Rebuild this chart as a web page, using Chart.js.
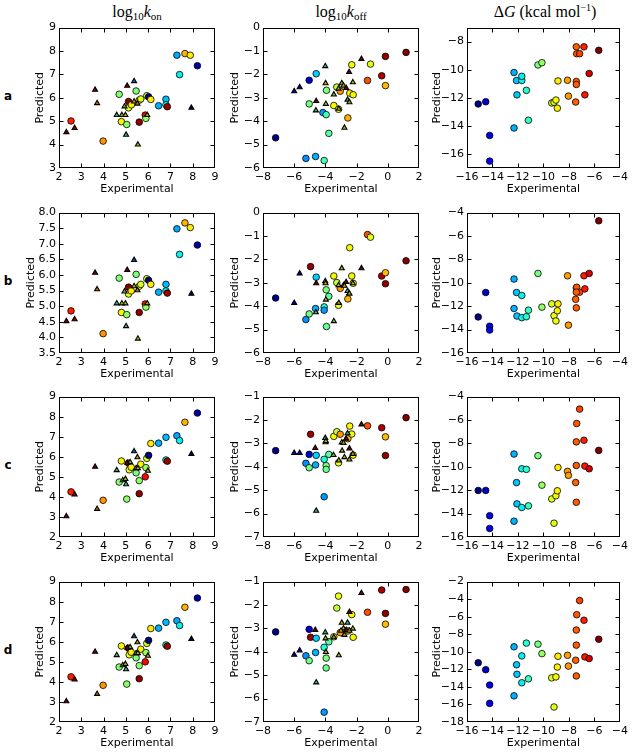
<!DOCTYPE html>
<html><head><meta charset="utf-8">
<script src="https://cdn.jsdelivr.net/npm/chart.js@4.4.1/dist/chart.umd.min.js"></script>
<style>
body{margin:0;background:#fff;}
#wrap{position:relative;width:635px;height:752px;overflow:hidden;background:#fff;}
canvas{position:absolute;}
.ttl{position:absolute;font-family:"Liberation Serif","DejaVu Serif",serif;font-size:16px;line-height:16px;transform:translateX(-50%);white-space:nowrap;color:#000;}
.ttl sub{font-size:11px;line-height:0;vertical-align:-3px;}
.ttl sup{font-size:10px;line-height:0;vertical-align:6px;}
.rl{position:absolute;font-family:"DejaVu Sans",sans-serif;font-weight:bold;font-size:12px;line-height:12px;transform:translate(-50%,-50%);}
</style></head>
<body><div id="wrap">
<div class="ttl" style="left:137px;top:4px">log<sub>10</sub><i>k</i><sub>on</sub></div>
<div class="ttl" style="left:341px;top:4px">log<sub>10</sub><i>k</i><sub>off</sub></div>
<div class="ttl" style="left:545px;top:4px">Δ<i>G</i> (kcal mol<sup>−1</sup>)</div>
<div class="rl" style="left:8px;top:96px">a</div>
<div class="rl" style="left:8px;top:281px">b</div>
<div class="rl" style="left:8px;top:465px">c</div>
<div class="rl" style="left:8px;top:650px">d</div>
</div>
<script>
// ---------- tick labels & ranges ----------
const konTicksX = [2,3,4,5,6,7,8,9];
const konTicksYA = [3,4,5,6,7,8,9];
const konTicksYB = [3.5,4.0,4.5,5.0,5.5,6.0,6.5,7.0,7.5,8.0];
const konTicksYCD = [2,3,4,5,6,7,8,9];
const koffTicksX = [-8,-6,-4,-2,0,2];
const koffTicksYAB = [-6,-5,-4,-3,-2,-1,0];
const koffTicksYCD = [-7,-6,-5,-4,-3,-2,-1];
const dgTicksX = [-16,-14,-12,-10,-8,-6,-4];
const dgTicksYA = [-16,-14,-12,-10,-8];
const dgTicksYBC = [-16,-14,-12,-10,-8,-6,-4];
const dgTicksYD = [-18,-16,-14,-12,-10,-8,-6,-4,-2];
const dgRangeYA = [-17,-7];

// colour variable range (experimental dG, kcal/mol)
const colourRange = [-15.12, -5.66];

// ---------- log10 kon : circles [exp, pred, dG] ----------
const konCirclesA = [[2.54,5.01,-6.8],[3.98,4.15,-8.0],[4.70,6.15,-10.3],[4.80,4.98,-9.0],[5.04,4.86,-10.2],[5.12,5.84,-5.7],[5.12,5.57,-9.2],[5.25,5.70,-8.9],[5.46,6.29,-10.4],[5.60,4.96,-5.8],[5.60,5.90,-9.0],[5.67,5.95,-9.3],[5.87,5.26,-6.6],[5.90,5.12,-10.1],[5.94,6.09,-9.4],[6.02,6.04,-15.1],[6.12,5.93,-8.9],[6.47,5.66,-12.3],[6.80,5.94,-12.2],[6.80,5.70,-11.6],[6.86,5.62,-5.9],[7.29,7.82,-12.4],[7.41,6.99,-11.7],[7.65,7.89,-8.3],[7.89,7.82,-8.9],[8.21,7.37,-14.8]];
const konCirclesB = [[2.54,4.85,-6.8],[3.98,4.12,-8.0],[4.70,5.90,-10.3],[4.80,4.80,-9.0],[5.04,4.73,-10.2],[5.12,5.61,-5.7],[5.12,5.39,-9.2],[5.24,5.49,-8.9],[5.46,6.02,-10.4],[5.60,4.80,-5.8],[5.60,5.64,-9.0],[5.67,5.70,-9.3],[5.87,5.07,-6.6],[5.90,4.97,-10.1],[5.94,5.88,-9.4],[6.02,5.83,-15.1],[6.12,5.70,-8.9],[6.47,5.45,-12.3],[6.80,5.70,-12.2],[6.80,5.49,-11.6],[6.86,5.42,-5.9],[7.29,7.48,-12.4],[7.41,6.66,-11.7],[7.65,7.67,-8.3],[7.89,7.52,-8.9],[8.21,6.96,-14.8]];
const konCirclesCD = [[2.54,4.25,-6.8],[3.98,3.83,-8.0],[4.70,4.74,-10.3],[4.80,5.79,-9.0],[5.04,3.89,-10.2],[5.12,5.68,-5.7],[5.15,5.35,-9.2],[5.24,5.48,-8.9],[5.46,5.20,-10.4],[5.60,4.81,-10.2],[5.60,4.16,-5.8],[5.67,5.63,-9.0],[5.87,5.00,-6.6],[5.90,5.46,-10.1],[5.94,5.92,-9.4],[6.02,6.07,-15.1],[6.12,6.66,-8.9],[6.47,6.68,-12.3],[6.80,6.97,-12.2],[6.80,5.84,-11.6],[6.86,5.78,-5.9],[7.29,7.05,-12.4],[7.41,6.81,-11.7],[7.65,7.72,-8.3],[8.21,8.18,-14.8]];
// triangles [exp, pred], colour variable shared
const konTriColour = [-6.0,-6.3,-6.0,-8.0,-11.0,-9.0,-9.0,-9.5,-6.0,-11.0,-12.8,-9.0,-8.5,-9.0,-9.0,-15.0];
const konTriA = [[2.33,4.53],[2.70,4.71],[3.62,6.34],[3.71,5.77],[4.59,5.26],[4.82,5.26],[4.98,5.26],[4.94,5.63],[5.06,6.51],[5.01,4.42],[5.37,6.71],[5.37,5.84],[5.52,5.75],[5.54,4.00],[5.96,5.26],[7.94,5.57]];
const konTriB = [[2.33,4.52],[2.70,4.58],[3.62,6.07],[3.71,5.54],[4.59,5.09],[4.82,5.09],[4.98,5.09],[4.94,5.47],[5.06,6.16],[5.01,4.36],[5.37,6.48],[5.37,5.64],[5.52,5.51],[5.54,3.96],[5.96,5.09],[7.94,5.40]];
const konTriCD = [[2.33,3.03],[2.70,4.12],[3.62,5.50],[3.71,3.40],[4.59,5.33],[4.86,4.83],[4.98,4.89],[5.19,5.73],[5.06,5.70],[5.01,4.63],[5.37,6.27],[5.46,5.43],[5.52,5.97],[5.54,5.43],[5.99,5.30],[7.94,6.14]];

// ---------- log10 koff ----------
const koffCirclesA = [[-7.19,-4.71,-15.1],[-5.25,-5.59,-12.6],[-4.63,-5.51,-12.3],[-4.08,-5.68,-11.0],[-5.04,-2.25,-14.5],[-4.59,-1.97,-12.0],[-5.04,-3.26,-10.5],[-4.16,-3.63,-12.5],[-3.95,-3.72,-11.0],[-3.93,-2.68,-10.4],[-3.78,-4.52,-10.8],[-3.27,-2.54,-9.6],[-3.05,-2.72,-8.0],[-3.46,-3.33,-9.0],[-3.16,-3.49,-9.1],[-2.31,-1.59,-9.0],[-2.44,-2.80,-8.9],[-2.22,-2.87,-9.0],[-2.56,-3.86,-8.3],[-1.11,-1.56,-9.2],[-1.30,-2.26,-7.3],[-0.39,-2.06,-6.0],[-0.15,-1.23,-5.8],[-0.15,-2.48,-8.4],[1.17,-1.06,-5.7]];
const koffCirclesB = [[-7.19,-3.65,-15.1],[-5.25,-4.57,-12.6],[-4.63,-4.10,-12.3],[-4.08,-4.03,-11.5],[-4.95,-2.31,-5.9],[-4.59,-2.76,-12.0],[-5.04,-4.33,-10.5],[-4.08,-4.17,-12.5],[-3.95,-3.30,-10.4],[-3.78,-3.58,-10.8],[-3.93,-4.87,-10.6],[-3.46,-2.71,-9.0],[-3.27,-2.99,-9.6],[-3.05,-3.24,-8.0],[-3.16,-3.96,-9.1],[-2.56,-3.69,-8.3],[-2.44,-1.50,-9.0],[-2.31,-2.71,-9.0],[-2.22,-3.02,-9.0],[-1.30,-0.94,-7.3],[-1.11,-1.05,-9.2],[-0.39,-2.71,-6.0],[-0.15,-3.04,-5.8],[-0.15,-2.57,-8.4],[1.17,-2.06,-5.7]];
const koffCirclesC = [[-7.19,-3.31,-15.1],[-5.25,-3.85,-12.6],[-5.04,-3.47,-14.5],[-4.95,-2.61,-5.9],[-5.04,-4.04,-10.5],[-4.63,-3.92,-12.3],[-4.59,-3.51,-12.0],[-4.08,-3.68,-11.5],[-4.08,-5.28,-12.5],[-3.95,-3.95,-10.4],[-3.95,-4.11,-10.6],[-3.78,-3.47,-10.8],[-3.46,-2.70,-9.0],[-3.27,-2.50,-9.6],[-3.05,-2.61,-8.0],[-3.16,-3.83,-9.1],[-2.56,-2.80,-8.3],[-2.44,-2.26,-9.0],[-2.31,-2.60,-9.0],[-2.22,-3.50,-9.0],[-1.30,-2.25,-7.3],[-0.39,-2.33,-6.0],[-0.15,-2.72,-8.4],[-0.15,-3.52,-5.8],[1.17,-1.90,-5.7]];
const koffCirclesD = [[-7.19,-3.15,-15.1],[-5.25,-4.17,-12.6],[-5.04,-3.04,-14.5],[-4.95,-3.38,-5.9],[-5.04,-4.38,-10.5],[-4.63,-4.03,-12.3],[-4.59,-3.42,-12.0],[-4.08,-3.81,-11.5],[-4.08,-6.58,-12.5],[-3.95,-4.27,-10.4],[-3.95,-4.69,-10.6],[-3.78,-3.57,-10.8],[-3.46,-3.36,-8.6],[-3.27,-2.13,-9.6],[-3.16,-1.62,-9.1],[-3.05,-3.18,-8.0],[-2.56,-3.11,-8.3],[-2.31,-2.41,-9.0],[-2.22,-3.38,-9.0],[-1.30,-2.31,-7.3],[-0.39,-1.36,-6.0],[-0.15,-2.36,-5.8],[-0.15,-2.82,-8.4],[1.17,-1.34,-5.7]];
const koffTriColour = [-14.0,-14.0,-6.0,-11.0,-11.0,-9.0,-9.0,-10.0,-9.0,-9.0,-9.0,-9.0,-6.0,-11.0,-6.0,-9.0,-9.0,-6.0,-9.0];
const koffTriA = [[-6.0,-2.72],[-5.65,-2.55],[-4.59,-3.14],[-4.61,-3.54],[-4.01,-1.65],[-3.99,-2.38],[-3.97,-3.26],[-3.46,-2.86],[-3.14,-3.47],[-2.95,-2.38],[-2.84,-2.48],[-2.78,-4.28],[-2.67,-2.58],[-2.58,-3.08],[-2.48,-1.90],[-2.46,-3.19],[-2.24,-2.34],[-1.69,-1.34],[-3.16,-2.61]];
const koffTriB = [[-6.0,-3.86],[-5.65,-2.60],[-4.59,-3.02],[-4.61,-4.26],[-4.01,-2.93],[-3.99,-3.02],[-3.97,-3.72],[-3.46,-4.64],[-3.14,-3.86],[-2.95,-2.38],[-2.84,-3.11],[-2.78,-3.13],[-2.67,-2.97],[-2.58,-3.35],[-2.48,-3.46],[-2.46,-3.46],[-2.24,-3.02],[-1.69,-2.38],[-3.16,-3.10]];
const koffTriC = [[-6.0,-3.41],[-5.65,-3.41],[-4.65,-3.20],[-4.59,-5.88],[-4.01,-2.77],[-3.99,-2.95],[-3.97,-2.90],[-3.48,-3.50],[-3.14,-3.73],[-2.95,-2.96],[-2.84,-2.98],[-2.78,-3.59],[-2.67,-2.80],[-2.58,-2.57],[-2.46,-3.22],[-2.46,-3.69],[-2.24,-3.45],[-1.69,-2.19],[-2.93,-3.31]];
const koffTriD = [[-6.0,-4.13],[-5.65,-3.94],[-4.65,-3.07],[-4.59,-5.31],[-4.01,-3.17],[-3.99,-3.43],[-3.97,-4.01],[-3.46,-3.38],[-3.14,-4.15],[-2.95,-2.76],[-2.84,-3.00],[-2.78,-3.28],[-2.67,-3.07],[-2.58,-2.76],[-2.46,-2.30],[-2.46,-3.10],[-2.24,-3.01],[-1.69,-1.49],[-3.00,-3.10]];

// ---------- dG ----------
const dgExp = [-15.12,-14.53,-14.22,-14.22,-12.31,-12.31,-12.11,-12.08,-11.70,-11.70,-11.34,-11.18,-10.43,-10.12,-9.35,-9.17,-9.02,-8.91,-8.86,-8.11,-8.04,-7.42,-7.39,-7.16,-7.42,-7.42,-7.47,-6.82,-6.75,-6.41,-5.66];
const dgPredA = [-12.44,-12.28,-14.68,-16.51,-10.20,-14.15,-10.77,-11.79,-10.77,-10.47,-11.47,-13.60,-9.66,-9.50,-12.37,-12.32,-12.16,-12.74,-10.80,-10.75,-11.88,-8.37,-8.86,-8.86,-10.84,-11.05,-12.30,-8.37,-11.79,-10.27,-8.62];
const dgPredB = [-12.92,-10.83,-13.71,-14.04,-9.68,-12.20,-10.83,-12.84,-11.08,-12.98,-12.90,-12.34,-9.20,-12.08,-11.80,-12.81,-13.26,-12.39,-11.80,-9.40,-13.62,-10.45,-10.38,-10.80,-10.80,-12.14,-11.41,-9.40,-10.52,-9.20,-4.70];
const dgPredC = [-12.02,-12.02,-14.18,-15.27,-8.91,-14.65,-11.35,-13.17,-10.17,-13.48,-10.22,-13.34,-9.05,-11.57,-12.75,-14.82,-12.47,-12.05,-10.06,-10.39,-10.73,-7.87,-6.30,-5.07,-9.89,-13.03,-11.34,-7.73,-9.94,-10.17,-8.60];
const dgPredD = [-11.25,-12.04,-13.79,-15.88,-9.43,-15.02,-11.48,-12.56,-10.47,-13.53,-9.01,-13.08,-9.13,-10.21,-12.97,-16.29,-12.86,-11.74,-10.51,-10.40,-11.63,-7.52,-5.77,-4.16,-9.24,-12.75,-10.96,-6.40,-10.58,-10.77,-8.57];

// ---------- helpers ----------
function jetRGB(v){
  let t=(v-colourRange[0])/(colourRange[1]-colourRange[0]);
  t=Math.max(0,Math.min(1,t));
  const seg=(pts)=>{for(let i=1;i<pts.length;i++){if(t<=pts[i][0]){const [x0,y0]=pts[i-1],[x1,y1]=pts[i];return y0+(y1-y0)*(t-x0)/(x1-x0);}}return pts[pts.length-1][1];};
  return [seg([[0,0],[0.35,0],[0.66,1],[0.89,1],[1,0.5]]),
          seg([[0,0],[0.125,0],[0.375,1],[0.64,1],[0.91,0],[1,0]]),
          seg([[0,0.5],[0.11,1],[0.34,1],[0.65,0],[1,0]])];
}
function jet(v,shade){
  const k=shade||1;
  const c=jetRGB(v).map(u=>Math.round(u*k*255));
  return `rgb(${c[0]},${c[1]},${c[2]})`;
}
const jetDark=(v)=>jet(v,0.72);
const fmt=(dec)=>(v)=>{const s=Number(v).toFixed(dec);return s.replace('-','\u2212');};

const framePlugin={
  id:'frame',
  afterDraw(chart){
    const {ctx,chartArea:a,scales:{x,y}}=chart;
    ctx.save();
    ctx.strokeStyle='#000';ctx.lineWidth=1;
    const L=Math.round(a.left)+0.5,R=Math.round(a.right)-0.5,T=Math.round(a.top)+0.5,B=Math.round(a.bottom)-0.5;
    ctx.strokeRect(L,T,R-L,B-T);
    ctx.beginPath();
    x.ticks.forEach(t=>{const p=Math.round(x.getPixelForValue(t.value))+0.5;if(p<L+1||p>R-1)return;ctx.moveTo(p,B);ctx.lineTo(p,B-4);ctx.moveTo(p,T);ctx.lineTo(p,T+4);});
    y.ticks.forEach(t=>{const p=Math.round(y.getPixelForValue(t.value))+0.5;if(p<T+1||p>B-1)return;ctx.moveTo(L,p);ctx.lineTo(L+4,p);ctx.moveTo(R,p);ctx.lineTo(R-4,p);});
    ctx.stroke();ctx.restore();
  }
};

const FONT={family:'"DejaVu Sans", sans-serif',size:11};
function makePanel(opt){
  const cv=document.createElement('canvas');
  cv.width=220;cv.height=184;
  cv.style.left=opt.left+'px';cv.style.top=opt.top+'px';
  cv.style.width='220px';cv.style.height='184px';
  document.getElementById('wrap').appendChild(cv);
  const datasets=[];
  if(opt.tri){
    datasets.push({data:opt.tri.map(p=>({x:p[0],y:p[1]})),pointStyle:'triangle',pointRadius:2.9,
      pointBackgroundColor:opt.triCol.map(jetDark),pointBorderColor:'#000',pointBorderWidth:1.1,showLine:false});
  }
  datasets.push({data:opt.circ.map(p=>({x:p[0],y:p[1]})),pointStyle:'circle',pointRadius:3.3,
    pointBackgroundColor:opt.circ.map(p=>jet(p[2])),pointBorderColor:'#000',pointBorderWidth:0.8,showLine:false});
  new Chart(cv,{
    type:'scatter',
    data:{datasets},
    options:{
      responsive:false,animation:false,devicePixelRatio:1,
      layout:{padding:{left:0,right:8,top:6,bottom:0}},
      plugins:{legend:{display:false},tooltip:{enabled:false}},
      scales:{
        x:{type:'linear',min:opt.xr[0],max:opt.xr[1],
          grid:{display:false,drawTicks:false},border:{display:false},
          ticks:{color:'#000',font:FONT,padding:3,maxRotation:0,autoSkip:false,callback:fmt(0)},
          afterBuildTicks:s=>{s.ticks=opt.xt.map(v=>({value:v}));},
          afterFit:s=>{s.height=34;},
          title:{display:true,text:'Experimental',color:'#000',font:FONT,padding:{top:0,bottom:6}}},
        y:{type:'linear',min:opt.yr[0],max:opt.yr[1],
          grid:{display:false,drawTicks:false},border:{display:false},
          ticks:{color:'#000',font:FONT,padding:3,autoSkip:false,callback:fmt(opt.ydec||0)},
          afterBuildTicks:s=>{s.ticks=opt.yt.map(v=>({value:v}));},
          afterFit:s=>{s.width=56;},
          title:{display:true,text:'Predicted',color:'#000',font:FONT,padding:{top:opt.ytp,bottom:0}}}
      }
    },
    plugins:[framePlugin]
  });
}

const colLeft=[59,263,467];
const rowTop=[24,209,393,578];
const konY=[konTicksYA,konTicksYB,konTicksYCD,konTicksYCD];
const konC=[konCirclesA,konCirclesB,konCirclesCD,konCirclesCD];
const konT=[konTriA,konTriB,konTriCD,konTriCD];
const koffY=[koffTicksYAB,koffTicksYAB,koffTicksYCD,koffTicksYCD];
const koffC=[koffCirclesA,koffCirclesB,koffCirclesC,koffCirclesD];
const koffT=[koffTriA,koffTriB,koffTriC,koffTriD];
const dgY=[dgTicksYA,dgTicksYBC,dgTicksYBC,dgTicksYD];
const dgP=[dgPredA,dgPredB,dgPredC,dgPredD];

for(let r=0;r<4;r++){
  const ky=konY[r];
  makePanel({left:colLeft[0]-56,top:rowTop[r]-6,xr:[2,9],yr:[ky[0],ky[ky.length-1]],xt:konTicksX,yt:ky,ydec:r===1?1:0,
    ytp:r===1?21.4:30.4,circ:konC[r],tri:konT[r],triCol:konTriColour});
  const fy=koffY[r];
  makePanel({left:colLeft[1]-56,top:rowTop[r]-6,xr:[-8,2],yr:[fy[0],fy[fy.length-1]],xt:koffTicksX,yt:fy,
    ytp:21.4,circ:koffC[r],tri:koffT[r],triCol:koffTriColour});
  const gy=dgY[r];
  const yr=r===0?dgRangeYA:[gy[0],gy[gy.length-1]];
  makePanel({left:colLeft[2]-56,top:rowTop[r]-6,xr:[-16,-4],yr:yr,xt:dgTicksX,yt:gy,
    ytp:19.4,circ:dgExp.map((e,i)=>[e,dgP[r][i],e])});
}
</script>
</body></html>
